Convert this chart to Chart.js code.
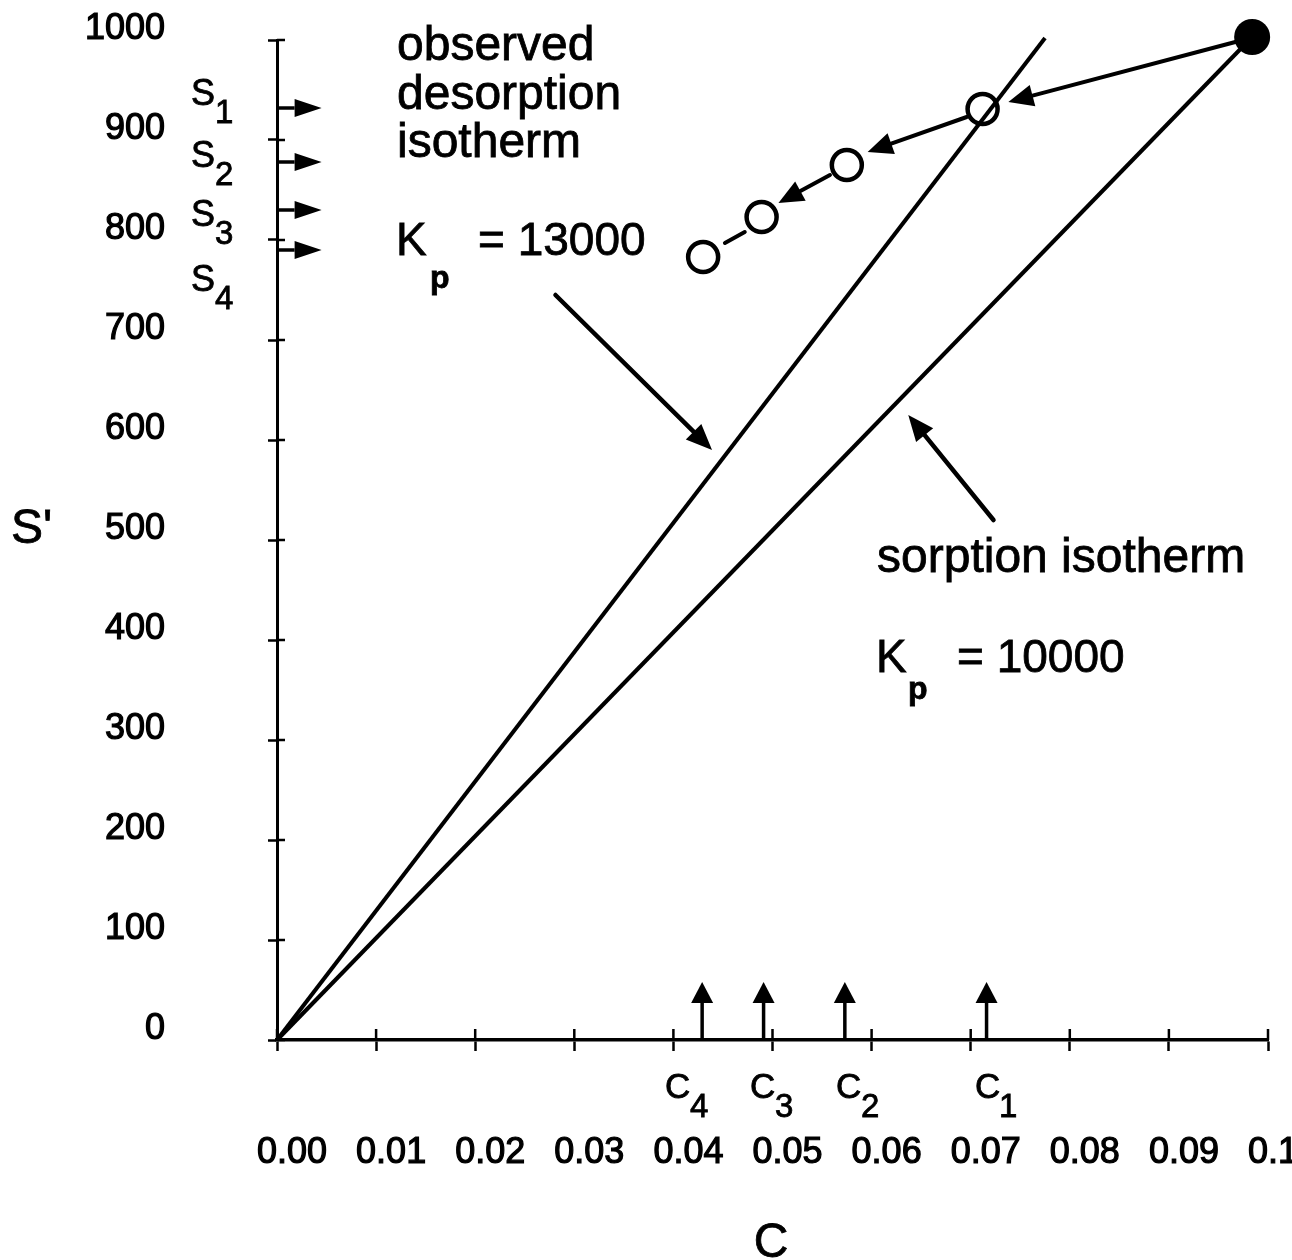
<!DOCTYPE html>
<html>
<head>
<meta charset="utf-8">
<script src="https://cdn.jsdelivr.net/npm/chart.js@4.4.1/dist/chart.umd.min.js"></script>
<style>
  html, body { margin: 0; padding: 0; background: #fff; }
  #wrap { width: 1292px; height: 1260px; }
</style>
</head>
<body>
<div id="wrap"><canvas id="isoChart"></canvas></div>
<script>
const xTickLabels = ['0.00', '0.01', '0.02', '0.03', '0.04', '0.05', '0.06', '0.07', '0.08', '0.09', '0.1'];
const yTickLabels = ['0', '100', '200', '300', '400', '500', '600', '700', '800', '900', '1000'];

// isotherm lines (C, S')
const kp13000C = [0, 0.0775];
const kp13000S = [0, 1002];
const kp10000C = [0, 0.0984];
const kp10000S = [0, 1003];

// starting point and observed desorption steps
const startC = [0.0984];
const startS = [1003];
const desorbC = [0.0712, 0.0575, 0.0489, 0.0430];
const desorbS = [931, 875, 823, 783];

// markers on the axes
const sLevels = [932, 878, 830, 790];
const cLevels = [0.0716, 0.0573, 0.0491, 0.0429];
const sMarkTip = 0.0045;
const cMarkTip = 58;

// arrows in data units: [c1, s1, c2, s2]
const stepArrows = [
  [0.0967, 998, 0.0738, 938],
  [0.0696, 923, 0.0596, 888],
  [0.0558, 865, 0.0506, 837]
];
const stepLink = [0.0472, 808, 0.0452, 797];
const pointerArrows = [
  [0.0281, 745, 0.0439, 590],
  [0.0723, 520, 0.0637, 625]
];

const FONT = "'Liberation Sans', Arial, sans-serif";

function pts(cs, ss) {
  return cs.map((c, i) => ({ x: c, y: ss[i] }));
}

function arrow(ctx, x1, y1, x2, y2, len, half, width) {
  const ang = Math.atan2(y2 - y1, x2 - x1);
  const bx = x2 - len * Math.cos(ang), by = y2 - len * Math.sin(ang);
  ctx.lineWidth = width;
  ctx.beginPath();
  ctx.moveTo(x1, y1);
  ctx.lineTo(bx, by);
  ctx.stroke();
  ctx.beginPath();
  ctx.moveTo(x2, y2);
  ctx.lineTo(bx + half * Math.sin(ang), by - half * Math.cos(ang));
  ctx.lineTo(bx - half * Math.sin(ang), by + half * Math.cos(ang));
  ctx.closePath();
  ctx.fill();
}

function text(ctx, str, x, y, size, bold, align) {
  ctx.font = (bold ? 'bold ' : '') + size + 'px ' + FONT;
  ctx.textAlign = align || 'left';
  ctx.lineWidth = 0.8;
  ctx.fillText(str, x, y);
  ctx.strokeText(str, x, y);
}

// tick marks cross the axis, this draws the inner half
const innerTicks = {
  id: 'innerTicks',
  afterDraw(chart) {
    const { ctx, chartArea: a, scales: { x, y } } = chart;
    ctx.save();
    ctx.strokeStyle = '#000';
    ctx.lineWidth = 2.5;
    ctx.beginPath();
    x.ticks.forEach((t, i) => {
      const px = x.getPixelForTick(i);
      ctx.moveTo(px, a.bottom);
      ctx.lineTo(px, a.bottom - 11);
    });
    y.ticks.forEach((t, i) => {
      const py = y.getPixelForTick(i);
      ctx.moveTo(a.left, py);
      ctx.lineTo(a.left + 8, py);
    });
    ctx.stroke();
    ctx.restore();
  }
};

const notes = {
  id: 'notes',
  afterDraw(chart) {
    const { ctx, scales: { x, y } } = chart;
    ctx.save();
    ctx.fillStyle = '#000';
    ctx.strokeStyle = '#000';
    ctx.lineCap = 'round';

    stepArrows.forEach(a => {
      arrow(ctx, x.getPixelForValue(a[0]), y.getPixelForValue(a[1]),
        x.getPixelForValue(a[2]), y.getPixelForValue(a[3]), 25, 11, 4);
    });
    ctx.lineWidth = 4;
    ctx.beginPath();
    ctx.moveTo(x.getPixelForValue(stepLink[0]), y.getPixelForValue(stepLink[1]));
    ctx.lineTo(x.getPixelForValue(stepLink[2]), y.getPixelForValue(stepLink[3]));
    ctx.stroke();

    pointerArrows.forEach(a => {
      arrow(ctx, x.getPixelForValue(a[0]), y.getPixelForValue(a[1]),
        x.getPixelForValue(a[2]), y.getPixelForValue(a[3]), 26, 11, 4.5);
    });

    ctx.lineCap = 'butt';
    sLevels.forEach(s => {
      arrow(ctx, x.getPixelForValue(0), y.getPixelForValue(s),
        x.getPixelForValue(sMarkTip), y.getPixelForValue(s), 27, 9, 3.5);
    });
    cLevels.forEach(c => {
      arrow(ctx, x.getPixelForValue(c), y.getPixelForValue(0),
        x.getPixelForValue(c), y.getPixelForValue(cMarkTip), 21, 11, 3.5);
    });

    text(ctx, 'observed', 397, 60, 48);
    text(ctx, 'desorption', 397, 109, 48);
    text(ctx, 'isotherm', 397, 157, 48);
    text(ctx, 'K', 396, 255, 46);
    text(ctx, 'p', 430, 288, 32, true);
    text(ctx, '= 13000', 478, 255, 46);

    text(ctx, 'sorption isotherm', 877, 572, 48);
    text(ctx, 'K', 876, 672, 46);
    text(ctx, 'p', 908, 699, 32, true);
    text(ctx, '= 10000', 957, 672, 46);

    [['1', 105], ['2', 167], ['3', 226], ['4', 291]].forEach(s => {
      text(ctx, 'S', 191, s[1], 36);
      text(ctx, s[0], 215, s[1] + 18, 33);
    });
    [['4', 665, 690], ['3', 750, 775], ['2', 836, 861], ['1', 975, 999]].forEach(c => {
      text(ctx, 'C', c[1], 1098, 35);
      text(ctx, c[0], c[2], 1117, 33);
    });

    text(ctx, "S'", 11, 543, 48);
    text(ctx, 'C', 771, 1257, 48, false, 'center');
    ctx.restore();
  }
};

const ctx = document.getElementById('isoChart').getContext('2d');
new Chart(ctx, {
  type: 'scatter',
  data: {
    datasets: [
      {
        label: 'start',
        data: pts(startC, startS),
        pointRadius: 18,
        pointBackgroundColor: '#000',
        pointBorderColor: '#000',
        pointBorderWidth: 0,
        order: 0,
        clip: false
      },
      {
        label: 'observed desorption',
        data: pts(desorbC, desorbS),
        pointRadius: 15,
        pointBorderWidth: 4.5,
        pointBackgroundColor: 'rgba(0,0,0,0)',
        pointBorderColor: '#000',
        order: 1,
        clip: false
      },
      {
        label: 'Kp = 13000',
        data: pts(kp13000C, kp13000S),
        showLine: true,
        borderColor: '#000',
        borderWidth: 4,
        pointRadius: 0,
        order: 2,
        clip: false
      },
      {
        label: 'Kp = 10000',
        data: pts(kp10000C, kp10000S),
        showLine: true,
        borderColor: '#000',
        borderWidth: 4,
        pointRadius: 0,
        order: 3,
        clip: false
      }
    ]
  },
  options: {
    responsive: true,
    maintainAspectRatio: false,
    animation: false,
    events: [],
    layout: { padding: { top: 40, right: 24, left: 0, bottom: 0 } },
    plugins: {
      legend: { display: false },
      tooltip: { enabled: false }
    },
    scales: {
      x: {
        type: 'linear',
        min: 0,
        max: 0.1,
        afterBuildTicks: s => { s.ticks = xTickLabels.map(t => ({ value: parseFloat(t) })); },
        afterFit: s => { s.height = 220; s.paddingLeft = 0; s.paddingRight = 0; },
        border: { display: true, color: '#000', width: 3.5 },
        grid: { display: true, drawOnChartArea: false, drawTicks: true, tickLength: 11, tickWidth: 2.5, tickColor: '#000' },
        ticks: {
          color: '#000',
          font: { family: FONT, size: 36 },
          textStrokeColor: '#000',
          textStrokeWidth: 1.2,
          padding: 80,
          align: 'start',
          labelOffset: -20,
          maxRotation: 0,
          autoSkip: false,
          callback: (v, i) => xTickLabels[i]
        }
      },
      y: {
        type: 'linear',
        min: 0,
        max: 1000,
        afterBuildTicks: s => { s.ticks = yTickLabels.map(t => ({ value: Number(t) })); },
        afterFit: s => { s.width = 277; s.paddingTop = 0; s.paddingBottom = 0; },
        border: { display: true, color: '#000', width: 3 },
        grid: { display: true, drawOnChartArea: false, drawTicks: true, tickLength: 9, tickWidth: 2.5, tickColor: '#000' },
        ticks: {
          color: '#000',
          font: { family: FONT, size: 36 },
          textStrokeColor: '#000',
          textStrokeWidth: 1.2,
          padding: 103,
          labelOffset: -11,
          autoSkip: false,
          callback: (v, i) => yTickLabels[i]
        }
      }
    }
  },
  plugins: [innerTicks, notes]
});
</script>
</body>
</html>
